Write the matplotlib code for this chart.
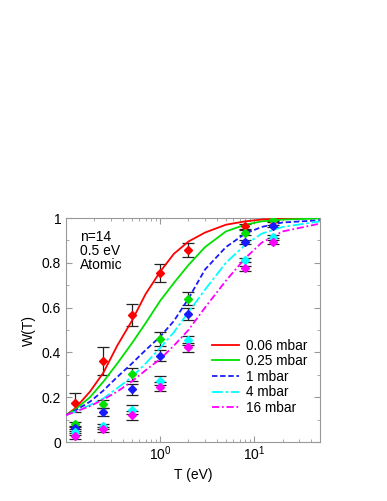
import numpy as np
import matplotlib.pyplot as plt

plt.rcParams['font.family'] = ['Liberation Sans', 'DejaVu Sans']

# model curves
T_curve = [0.1, 0.125, 0.18, 0.25, 0.35, 0.5, 0.7, 1, 1.4, 2, 3, 5, 8, 12, 20, 50]
w_006 = [0.12, 0.15, 0.225, 0.31, 0.43, 0.54, 0.66, 0.76, 0.84, 0.895, 0.935, 0.97, 0.985, 0.993, 0.998, 1.0]
w_025 = [0.12, 0.145, 0.20, 0.27, 0.35, 0.44, 0.53, 0.63, 0.71, 0.79, 0.87, 0.94, 0.97, 0.985, 0.993, 0.998]
w_1 = [0.12, 0.14, 0.18, 0.23, 0.29, 0.35, 0.41, 0.47, 0.54, 0.64, 0.77, 0.87, 0.93, 0.96, 0.98, 0.99]
w_4 = [0.12, 0.135, 0.165, 0.195, 0.24, 0.29, 0.35, 0.42, 0.49, 0.58, 0.68, 0.80, 0.88, 0.93, 0.96, 0.985]
w_16 = [0.12, 0.135, 0.16, 0.19, 0.225, 0.27, 0.32, 0.37, 0.43, 0.50, 0.60, 0.72, 0.82, 0.89, 0.94, 0.975]

# measured points
T_pts = [0.125, 0.25, 0.5, 1, 2, 8, 16]
p_006 = [0.175, 0.363, 0.567, 0.753, 0.857, 0.963, 0.985]
e_006 = [0.042, 0.063, 0.05, 0.04, 0.03, 0.01, 0.005]
p_025 = [0.079, 0.171, 0.302, 0.46, 0.64, 0.935, 0.99]
e_025 = [0.012, 0.018, 0.03, 0.03, 0.03, 0.01, 0.005]
p_1 = [0.061, 0.133, 0.235, 0.385, 0.571, 0.894, 0.964]
e_1 = [0.012, 0.018, 0.026, 0.025, 0.025, 0.01, 0.006]
p_4 = [0.045, 0.07, 0.143, 0.274, 0.455, 0.812, 0.917]
e_4 = [0.012, 0.012, 0.02, 0.02, 0.02, 0.01, 0.008]
p_16 = [0.027, 0.057, 0.119, 0.247, 0.423, 0.775, 0.892]
e_16 = [0.012, 0.012, 0.02, 0.02, 0.02, 0.01, 0.008]

labels = ['0.06 mbar', '0.25 mbar', '1 mbar', '4 mbar', '16 mbar']
colors = ['#ff0000', '#00e000', '#1a1aff', '#00ffff', '#ff00ff']
styles = ['-', '-', (0, (3, 1.5)), (0, (6, 1.5, 1.5, 1.5)), (0, (4, 1.5, 1, 1.5))]

curves = [w_006, w_025, w_1, w_4, w_16]
points = [p_006, p_025, p_1, p_4, p_16]
errors = [e_006, e_025, e_1, e_4, e_16]

fig = plt.figure(figsize=(3.87, 5.01), dpi=100)
ax = fig.add_axes([66/387, 1-442/501, (320-66)/387, (442-218)/501])

for i in range(5):
    ax.errorbar(T_pts, points[i], yerr=errors[i], fmt='none', ecolor='#222222',
                elinewidth=0.9, capsize=4.2, capthick=0.9, zorder=2)
for i in range(5):
    ax.plot(T_curve, curves[i], color=colors[i], linestyle=styles[i], lw=1.3,
            label=labels[i], zorder=3)
    ax.plot(T_pts, points[i], 'D', color=colors[i], ms=4.5, zorder=4)

ax.set_xscale('log')
ax.set_xlim(0.1, 50)
ax.set_ylim(0, 1)
ax.set_yticks([0, 0.2, 0.4, 0.6, 0.8, 1])
ax.set_yticklabels(['0', '0.2', '0.4', '0.6', '0.8', '1'])
ax.set_yticks(np.arange(0.1, 1, 0.2), minor=True)
ax.set_xticks([1, 10])

for s in ax.spines.values():
    s.set_color('#999999')
ax.tick_params(which='both', direction='in', top=True, right=True, color='#999999',
               labelsize=10)
ax.tick_params(which='major', length=4)
ax.tick_params(which='minor', length=2.5)
ax.tick_params(axis='x', pad=2)

ax.set_xlabel('T (eV)', fontsize=10, labelpad=3)
ax.set_ylabel('W(T)', fontsize=10, labelpad=4)

ax.text(0.055, 0.945, 'n=14\n0.5 eV\nAtomic', fontsize=10, va='top', ha='left',
        linespacing=1.0, transform=ax.transAxes)

ax.legend(loc='upper left', bbox_to_anchor=(0.574, 0.462), frameon=False, fontsize=9.8,
          handlelength=2.0, labelspacing=0.12, handletextpad=0.5,
          borderpad=0, borderaxespad=0)

fig.savefig('out.png', dpi=100)
